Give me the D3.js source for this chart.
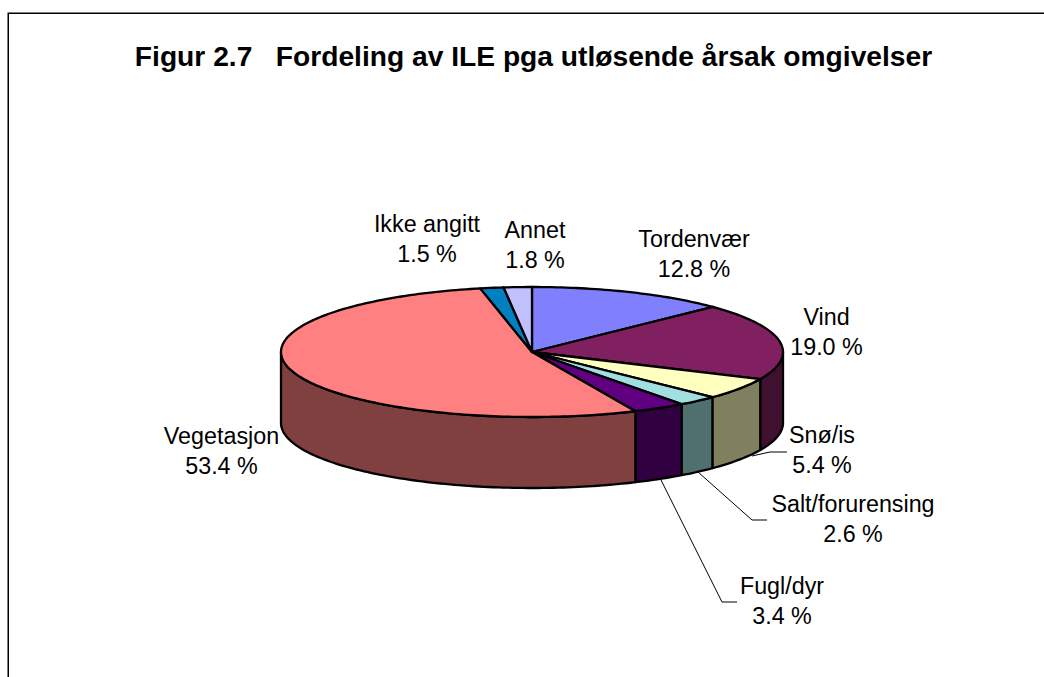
<!DOCTYPE html>
<html><head><meta charset="utf-8">
<script src="https://cdn.jsdelivr.net/npm/d3@7/dist/d3.min.js"></script>
<style>html,body{margin:0;padding:0;background:#fff}svg{display:block}text{font-family:"Liberation Sans",Arial,sans-serif;fill:#000}</style>
</head><body><svg id="c" width="1044" height="677"></svg>
<script>
const categories=["Tordenvær","Vind","Snø/is","Salt/forurensing","Fugl/dyr","Vegetasjon","Ikke angitt","Annet"];
const shares=[12.8,19.0,5.4,2.6,3.4,53.4,1.5,1.8];
const shareLabels=["12.8 %","19.0 %","5.4 %","2.6 %","3.4 %","53.4 %","1.5 %","1.8 %"];
const topColors=["#8080FF","#802060","#FFFFC0","#A0E0E0","#600080","#FF8080","#0080C0","#C0C0FF"];
const sideColors=["#404080","#401030","#808060","#507070","#300040","#804040","#004060","#606080"];
const labelAnchors=[[694,247],[826.5,325],[822,443],[853,512],[782,594],[221.5,444],[427,232],[535,238]];
const leaders=[null,null,[[752,456],[770,452],[787,452]],[[698,472],[752,520],[767,520]],[[660,478],[722,602],[737,602]],null,null,null];

const svg=d3.select("#c");
const W=1044,H=677,cx=532,cy=352,rx=251,ry=65,depth=71;
const px=d3.scaleLinear().domain([-1,1]).range([cx-rx,cx+rx]);
const py=d3.scaleLinear().domain([-1,1]).range([cy-ry,cy+ry]);
const pie=d3.pie().sort(null).value(d=>d)(shares);
const P=(a,dy=0)=>[px(Math.sin(a)),py(-Math.cos(a))+dy];
const samples=(a0,a1,dy=0)=>{const n=Math.max(2,Math.ceil((a1-a0)/0.02));
  return d3.range(n+1).map(i=>P(a0+(a1-a0)*i/n,dy));};
const line=d3.line();

// frame: open toward the bottom and right like the cropped original
svg.append("path").attr("d",line([[8.25,677],[8.25,13.25],[W,13.25]])).attr("fill","none").attr("stroke","#000").attr("stroke-width",1.5);

svg.append("text").attr("x",533.5).attr("y",66).attr("text-anchor","middle")
  .attr("font-size",28.2).attr("font-weight","bold").attr("xml:space","preserve")
  .text("Figur 2.7   Fordeling av ILE pga utløsende årsak omgivelser");

// side walls: only the front half (pi/2..3pi/2) is visible
const vis0=Math.PI/2,vis1=3*Math.PI/2;
const g=svg.append("g").attr("stroke","#000").attr("stroke-width",2.3).attr("stroke-linejoin","round");
pie.forEach((s,i)=>{
  const a0=Math.max(s.startAngle,vis0),a1=Math.min(s.endAngle,vis1);
  if(a1<=a0) return;
  const top=samples(a0,a1),bot=samples(a0,a1,depth).reverse();
  g.append("path").attr("d",line(top.concat(bot))+"Z").attr("fill",sideColors[i]);
});
pie.forEach((s,i)=>{
  const c=[cx,cy];
  g.append("path").attr("d",line([c,...samples(s.startAngle,s.endAngle)])+"Z").attr("fill",topColors[i]);
});

// leaders
svg.append("g").selectAll("path").data(leaders.filter(Boolean)).join("path")
  .attr("d",d=>line(d)).attr("fill","none").attr("stroke","#000").attr("stroke-width",1);

// labels
const lab=svg.append("g").attr("font-size",23.3).attr("text-anchor","middle");
categories.forEach((c,i)=>{
  const [x,y]=labelAnchors[i];
  lab.append("text").attr("x",x).attr("y",y).text(c);
  lab.append("text").attr("x",x).attr("y",y+30).text(shareLabels[i]);
});
</script></body></html>
